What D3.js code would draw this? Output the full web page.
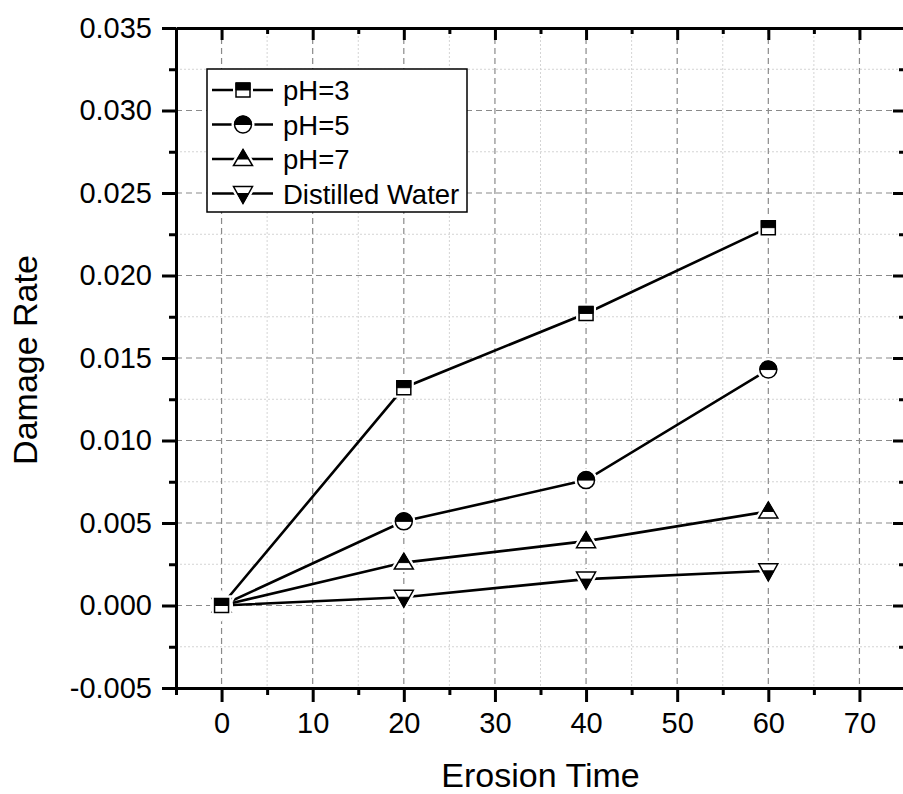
<!DOCTYPE html>
<html>
<head>
<meta charset="utf-8">
<script src="https://cdn.jsdelivr.net/npm/d3@7"></script>
<style>
  body { margin: 0; background: #fff; }
  text { font-family: "Liberation Sans", Arial, sans-serif; fill: #000; }
</style>
</head>
<body>
<script>
const times = [0, 20, 40, 60];
const seriesNames = ['pH=3', 'pH=5', 'pH=7', 'Distilled Water'];
const ph3 = [0, 0.0132, 0.0177, 0.0229];
const ph5 = [0, 0.0051, 0.0076, 0.0143];
const ph7 = [0, 0.0026, 0.0039, 0.0057];
const water = [0, 0.0005, 0.0016, 0.0021];
const xTicks = [0, 10, 20, 30, 40, 50, 60, 70];
const xMinor = [-5, 5, 15, 25, 35, 45, 55, 65, 75];
const yTicks = [-0.005, 0, 0.005, 0.01, 0.015, 0.02, 0.025, 0.03, 0.035];
const yMinor = [-0.0025, 0.0025, 0.0075, 0.0125, 0.0175, 0.0225, 0.0275, 0.0325];

const width = 903, height = 794;
const margin = { left: 176, right: -2, top: 28, bottom: 106 };

const svg = d3.select('body').append('svg')
  .attr('width', width)
  .attr('height', height);

const xScale = d3.scaleLinear().domain([-5, 75]).range([margin.left, width - margin.right]);
const yScale = d3.scaleLinear().domain([-0.005, 0.035]).range([height - margin.bottom, margin.top]);

const x0 = xScale.range()[0], x1 = xScale.range()[1];
const y0 = yScale.range()[0], y1 = yScale.range()[1];

// grid
const grid = svg.append('g');
grid.selectAll('.vminor').data(xMinor).enter().append('line')
  .attr('x1', d => xScale(d)).attr('x2', d => xScale(d))
  .attr('y1', y1).attr('y2', y0)
  .attr('stroke', '#d4d4d4').attr('stroke-width', 1).attr('stroke-dasharray', '2,2');
grid.selectAll('.hminor').data(yMinor).enter().append('line')
  .attr('x1', x0).attr('x2', x1)
  .attr('y1', d => yScale(d)).attr('y2', d => yScale(d))
  .attr('stroke', '#d4d4d4').attr('stroke-width', 1).attr('stroke-dasharray', '2,2');
grid.selectAll('.vmajor').data(xTicks).enter().append('line')
  .attr('x1', d => xScale(d)).attr('x2', d => xScale(d))
  .attr('y1', y1).attr('y2', y0)
  .attr('stroke', '#8a8a8a').attr('stroke-width', 1.2).attr('stroke-dasharray', '6,4');
grid.selectAll('.hmajor').data(yTicks.slice(1, -1)).enter().append('line')
  .attr('x1', x0).attr('x2', x1)
  .attr('y1', d => yScale(d)).attr('y2', d => yScale(d))
  .attr('stroke', '#8a8a8a').attr('stroke-width', 1.2).attr('stroke-dasharray', '6,4');

// axes
function styleAxis(g) {
  g.select('.domain').attr('stroke-width', 3);
  g.selectAll('.tick line').attr('stroke-width', 3);
  g.selectAll('.tick text').style('font-size', '29px').attr('fill', '#000');
}

const xAxisG = svg.append('g').attr('transform', `translate(0,${y0})`)
  .call(d3.axisBottom(xScale).tickValues(xTicks).tickSize(14).tickPadding(10).tickSizeOuter(0));
styleAxis(xAxisG);
svg.append('g').attr('transform', `translate(0,${y0})`)
  .call(d3.axisBottom(xScale).tickValues(xMinor).tickSize(7).tickFormat('').tickSizeOuter(0))
  .call(g => g.select('.domain').remove())
  .selectAll('line').attr('stroke-width', 3);

const yAxisG = svg.append('g').attr('transform', `translate(${x0},0)`)
  .call(d3.axisLeft(yScale).tickValues(yTicks).tickSize(14).tickPadding(10).tickSizeOuter(0)
    .tickFormat(d => d.toFixed(3)));
styleAxis(yAxisG);
svg.append('g').attr('transform', `translate(${x0},0)`)
  .call(d3.axisLeft(yScale).tickValues(yMinor).tickSize(7).tickFormat('').tickSizeOuter(0))
  .call(g => g.select('.domain').remove())
  .selectAll('line').attr('stroke-width', 3);

// top and right frame with inward ticks
const topAxisG = svg.append('g').attr('transform', `translate(0,${y1})`)
  .call(d3.axisBottom(xScale).tickValues(xTicks).tickSize(12).tickFormat('').tickSizeOuter(0));
styleAxis(topAxisG);
svg.append('g').attr('transform', `translate(0,${y1})`)
  .call(d3.axisBottom(xScale).tickValues(xMinor).tickSize(6).tickFormat('').tickSizeOuter(0))
  .call(g => g.select('.domain').remove())
  .selectAll('line').attr('stroke-width', 3);
const rightAxisG = svg.append('g').attr('transform', `translate(${x1},0)`)
  .call(d3.axisLeft(yScale).tickValues(yTicks).tickSize(12).tickFormat('').tickSizeOuter(0));
styleAxis(rightAxisG);
svg.append('g').attr('transform', `translate(${x1},0)`)
  .call(d3.axisLeft(yScale).tickValues(yMinor).tickSize(6).tickFormat('').tickSizeOuter(0))
  .call(g => g.select('.domain').remove())
  .selectAll('line').attr('stroke-width', 3);

// axis titles
svg.append('text')
  .attr('x', (x0 + x1) / 2).attr('y', 787)
  .attr('text-anchor', 'middle')
  .style('font-size', '34px')
  .text('Erosion Time');
svg.append('text')
  .attr('transform', 'translate(37,360) rotate(-90)')
  .attr('text-anchor', 'middle')
  .style('font-size', '34px')
  .text('Damage Rate');

// marker shapes: outline + filled half
const shapes = {
  square: 'M-7,-7H7V7H-7Z',
  circle: 'M-8.5,0A8.5,8.5 0 1,0 8.5,0A8.5,8.5 0 1,0 -8.5,0Z',
  up: 'M0,-9.5L9.5,6.5L-9.5,6.5Z',
  down: 'M0,10L9.5,-7L-9.5,-7Z'
};
const halves = {
  square: 'M-7,-7H7V0H-7Z',
  circle: 'M-8.5,0A8.5,8.5 0 0,1 8.5,0Z',
  up: 'M0,-9.5L5.64,0L-5.64,0Z',
  down: 'M0,10L5.59,0L-5.59,0Z'
};

const series = [
  { name: seriesNames[0], values: ph3, shape: 'square' },
  { name: seriesNames[1], values: ph5, shape: 'circle' },
  { name: seriesNames[2], values: ph7, shape: 'up' },
  { name: seriesNames[3], values: water, shape: 'down' }
];

function drawMarker(g, s) {
  g.append('path').attr('d', shapes[s.shape])
    .attr('fill', 'none').attr('stroke', '#fff').attr('stroke-width', 6);
  g.append('path').attr('d', shapes[s.shape])
    .attr('fill', '#fff').attr('stroke', '#000').attr('stroke-width', 1.5);
  g.append('path').attr('d', halves[s.shape])
    .attr('fill', '#000').attr('stroke', '#000').attr('stroke-width', 1);
}

const line = d3.line().x(d => xScale(d[0])).y(d => yScale(d[1]));

series.forEach(s => {
  const pts = times.map((t, i) => [t, s.values[i]]);
  svg.append('path').datum(pts)
    .attr('d', line)
    .attr('fill', 'none')
    .attr('stroke', '#000')
    .attr('stroke-width', 2.6);
});
series.slice().reverse().forEach(s => {
  times.forEach((t, i) => {
    const g = svg.append('g')
      .attr('transform', `translate(${xScale(t)},${yScale(s.values[i])})`);
    drawMarker(g, s);
  });
});

// legend
const legend = svg.append('g');
legend.append('rect')
  .attr('x', 207).attr('y', 69).attr('width', 260).attr('height', 143)
  .attr('fill', '#fff').attr('stroke', '#000').attr('stroke-width', 1.5);
series.forEach((s, i) => {
  const ly = 90 + i * 34.5;
  legend.append('line')
    .attr('x1', 212).attr('x2', 273).attr('y1', ly).attr('y2', ly)
    .attr('stroke', '#000').attr('stroke-width', 2.6);
  const g = legend.append('g').attr('transform', `translate(243,${ly})`);
  drawMarker(g, s);
  legend.append('text')
    .attr('x', 283).attr('y', ly + 10)
    .style('font-size', '27.5px')
    .text(s.name);
});
</script>
</body>
</html>
